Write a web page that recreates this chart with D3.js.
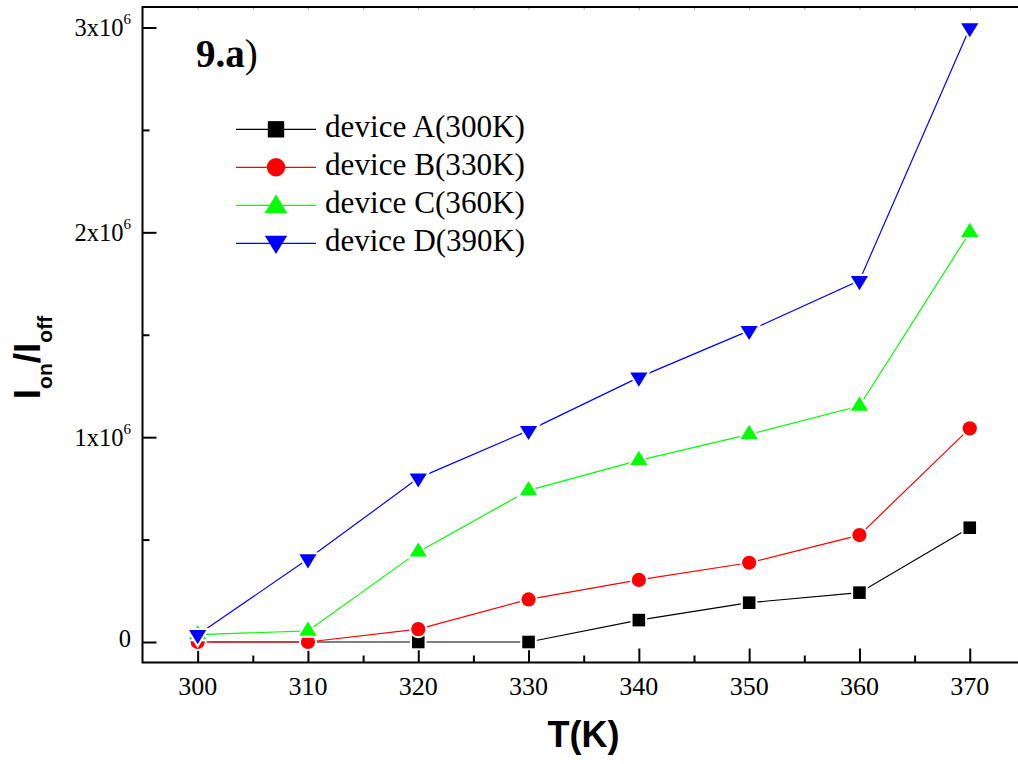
<!DOCTYPE html>
<html>
<head>
<meta charset="utf-8">
<script src="https://d3js.org/d3.v7.min.js"></script>
<style>
  html, body { margin: 0; padding: 0; background: #fff; overflow: hidden; }
  svg { display: block; }
</style>
</head>
<body>
<svg id="chart" width="1018" height="764"></svg>
<script>
// Temperatures (K) on the x axis
const temps = [300, 310, 320, 330, 340, 350, 360, 370];

// Ion/Ioff ratio for each device
const deviceA = [0, 0, 0, 0, 0.107e6, 0.192e6, 0.241e6, 0.558e6];
const deviceB = [0, 0, 0.063e6, 0.208e6, 0.303e6, 0.387e6, 0.522e6, 1.043e6];
const deviceC = [0.036e6, 0.054e6, 0.44e6, 0.74e6, 0.887e6, 1.014e6, 1.152e6, 2.0e6];
const deviceD = [0.035e6, 0.405e6, 0.80e6, 1.032e6, 1.292e6, 1.52e6, 1.764e6, 2.998e6];

const seriesNames = ["device A(300K)", "device B(330K)", "device C(360K)", "device D(390K)"];
const seriesColors = ["#000000", "#ff0000", "#00ff00", "#0000ff"];
const seriesShapes = ["square", "circle", "triangleUp", "triangleDown"];

// Axis ticks
const xMajorTicks = [300, 310, 320, 330, 340, 350, 360, 370];
const xMinorTicks = [305, 315, 325, 335, 345, 355, 365, 375];
const yMajorTicks = [0, 1e6, 2e6, 3e6];
const yMinorTicks = [0.5e6, 1.5e6, 2.5e6];
const yTickMantissa = ["0", "1x10", "2x10", "3x10"];
const yTickExponent = ["", "6", "6", "6"];

const svg = d3.select("#chart");

const x = d3.scaleLinear().domain([295, 375]).range([142.5, 1024.9]);
const y = d3.scaleLinear().domain([-0.1e6, 3.1e6]).range([662.5, 7]);

const serif = "Liberation Serif, Times New Roman, Times, serif";
const sans = "Liberation Sans, Arial, Helvetica, sans-serif";

// Marker geometry
function markerPath(shape, s) {
  if (shape === "square") {
    const h = 6.3 * s;
    return `M${-h},${-h}H${h}V${h}H${-h}Z`;
  }
  if (shape === "circle") {
    const r = 7.1 * s;
    return `M${r},0A${r},${r} 0 1,1 ${-r},0A${r},${r} 0 1,1 ${r},0Z`;
  }
  const w = 8.6 * s, hh = 14.2 * s;
  if (shape === "triangleUp") {
    return `M0,${-hh * 2 / 3}L${w},${hh / 3}L${-w},${hh / 3}Z`;
  }
  return `M0,${hh * 2 / 3}L${w},${-hh / 3}L${-w},${-hh / 3}Z`;
}

const allSeries = [deviceA, deviceB, deviceC, deviceD].map((vals, i) => ({
  name: seriesNames[i],
  color: seriesColors[i],
  shape: seriesShapes[i],
  points: temps.map((t, j) => ({ t, v: vals[j] }))
}));

// Frame
const frame = svg.append("g");
frame.append("rect")
  .attr("x", x(295)).attr("y", y(3.1e6))
  .attr("width", x(375) - x(295)).attr("height", y(-0.1e6) - y(3.1e6))
  .attr("fill", "none").attr("stroke", "#000").attr("stroke-width", 2);

// Bottom axis ticks (pointing inward)
const xAxis = d3.axisBottom(x).tickValues(xMajorTicks).tickSize(-14).tickFormat("");
const gx = svg.append("g").attr("transform", `translate(0,${y(-0.1e6)})`).call(xAxis);
gx.select(".domain").remove();
gx.selectAll(".tick line").attr("stroke-width", 2);
const xAxisMinor = d3.axisBottom(x).tickValues(xMinorTicks).tickSize(-7).tickFormat("");
const gxm = svg.append("g").attr("transform", `translate(0,${y(-0.1e6)})`).call(xAxisMinor);
gxm.select(".domain").remove();
gxm.selectAll(".tick line").attr("stroke-width", 2);

// Faint ticks on the top edge
const xAxisTop = d3.axisTop(x).tickValues(xMajorTicks.concat(xMinorTicks)).tickSize(-2).tickFormat("");
const gxt = svg.append("g").attr("transform", `translate(0,${y(3.1e6) + 1})`).call(xAxisTop);
gxt.select(".domain").remove();
gxt.selectAll(".tick line").attr("stroke", "#aaa").attr("stroke-width", 1);

// X tick labels
svg.append("g").selectAll("text").data(xMajorTicks).join("text")
  .attr("x", d => x(d)).attr("y", 695)
  .attr("text-anchor", "middle")
  .attr("font-family", serif).attr("font-size", 26)
  .text(d => d);

// Left axis ticks (pointing inward)
const yAxis = d3.axisLeft(y).tickValues(yMajorTicks).tickSize(-14).tickFormat("");
const gy = svg.append("g").attr("transform", `translate(${x(295)},0)`).call(yAxis);
gy.select(".domain").remove();
gy.selectAll(".tick line").attr("stroke-width", 2);
const yAxisMinor = d3.axisLeft(y).tickValues(yMinorTicks).tickSize(-7).tickFormat("");
const gym = svg.append("g").attr("transform", `translate(${x(295)},0)`).call(yAxisMinor);
gym.select(".domain").remove();
gym.selectAll(".tick line").attr("stroke-width", 2);

// Y tick labels with superscript exponents
const yl = svg.append("g").selectAll("text").data(yMajorTicks).join("text")
  .attr("x", 131)
  .attr("y", (d, i) => y(d) + (yTickExponent[i] ? 8.5 : 4.5))
  .attr("text-anchor", "end")
  .attr("font-family", serif).attr("font-size", 24.5);
yl.append("tspan").text((d, i) => yTickMantissa[i]);
yl.filter((d, i) => yTickExponent[i] !== "")
  .append("tspan").attr("font-size", 15).attr("dy", -12)
  .text(d => yTickExponent[yMajorTicks.indexOf(d)]);

// Series: line then markers, each with a white halo so lines stop short of the symbols
const line = d3.line().x(d => x(d.t)).y(d => y(d.v));
allSeries.forEach(s => {
  const g = svg.append("g");
  g.append("path").datum(s.points)
    .attr("d", line).attr("fill", "none")
    .attr("stroke", s.color).attr("stroke-width", 1.2);
  const m = g.selectAll("g.m").data(s.points).join("g")
    .attr("transform", d => `translate(${x(d.t)},${y(d.v)})`);
  m.append("path").attr("d", markerPath(s.shape, 1))
    .attr("fill", "#fff").attr("stroke", "#fff").attr("stroke-width", 4);
  m.append("path").attr("d", markerPath(s.shape, 1)).attr("fill", s.color);
});

// Legend
const legend = svg.append("g");
allSeries.forEach((s, i) => {
  const cy = 129.3 + i * 38;
  legend.append("line")
    .attr("x1", 236).attr("x2", 316).attr("y1", cy).attr("y2", cy)
    .attr("stroke", s.color).attr("stroke-width", 1.2);
  legend.append("path")
    .attr("transform", `translate(276,${cy + (s.shape === "triangleUp" ? 1.5 : s.shape === "triangleDown" ? -1.5 : 0)})`)
    .attr("d", markerPath(s.shape, 1.3)).attr("fill", s.color);
  legend.append("text")
    .attr("x", 325).attr("y", cy + 8)
    .attr("font-family", serif).attr("font-size", 31)
    .attr("textLength", 200).attr("lengthAdjust", "spacingAndGlyphs")
    .text(s.name);
});

// Panel label
const panel = svg.append("text").attr("x", 196).attr("y", 66.7)
  .attr("font-family", serif).attr("font-size", 39);
panel.append("tspan").attr("font-weight", "bold").text("9.a");
panel.append("tspan").text(")");

// Axis titles
svg.append("text")
  .attr("x", 583.5).attr("y", 747)
  .attr("text-anchor", "middle")
  .attr("font-family", sans).attr("font-weight", "bold").attr("font-size", 36)
  .text("T(K)");

const yt = svg.append("text")
  .attr("transform", "translate(40,357.5) rotate(-90)")
  .attr("text-anchor", "middle")
  .attr("font-family", sans).attr("font-weight", "bold").attr("font-size", 37);
yt.append("tspan").text("I");
yt.append("tspan").attr("font-size", 21).attr("dy", 11.7).text("on");
yt.append("tspan").attr("dy", -11.7).text("/I");
yt.append("tspan").attr("font-size", 21).attr("dy", 11.7).text("off");
</script>
</body>
</html>
